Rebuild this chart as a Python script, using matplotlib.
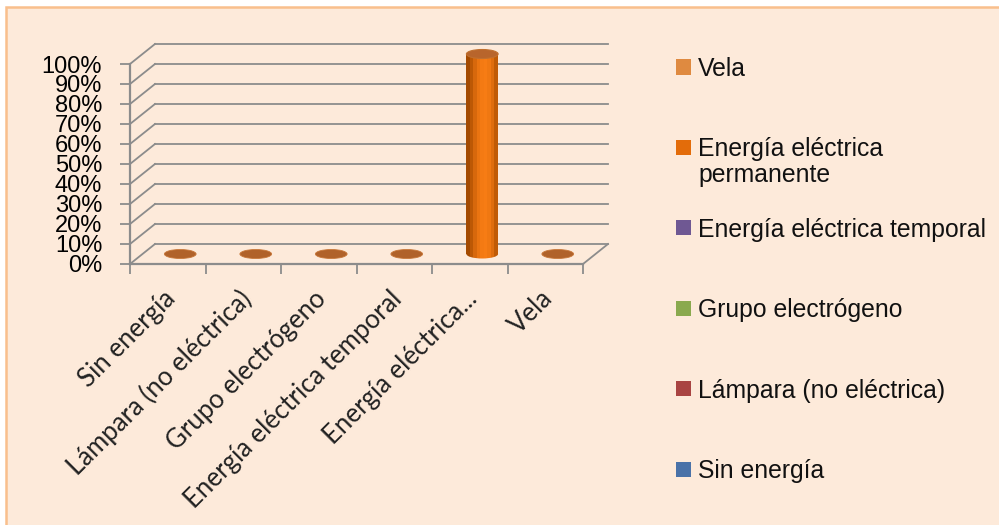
import numpy as np
import matplotlib
matplotlib.use("Agg")
import matplotlib.pyplot as plt
from matplotlib.patches import Rectangle, Ellipse

# Datos
categorias = ["Sin energía", "Lámpara (no eléctrica)", "Grupo electrógeno",
              "Energía eléctrica temporal", "Energía eléctrica...", "Vela"]
valores = [0, 0, 0, 0, 100, 0]
leyenda = ["Vela", "Energía eléctrica\npermanente", "Energía eléctrica temporal",
           "Grupo electrógeno", "Lámpara (no eléctrica)", "Sin energía"]
colores_leyenda = ["#DF8A40", "#E36C0A", "#6F5893", "#8AA94E", "#A94442", "#4A72A8"]
yticks = list(range(0, 101, 10))

fondo = "#FDEADA"
gris = "#8C8C8C"

fig = plt.figure(figsize=(9.99, 5.25), dpi=100)
fig.patch.set_facecolor("white")
# marco naranja del grafico
fig.patches.append(Rectangle((6 / 999, -0.1), 1.1, (525 - 7) / 525 + 0.1,
                             transform=fig.transFigure, facecolor=fondo,
                             edgecolor="#F9BF8C", lw=1.8, zorder=-5))

ax = fig.add_axes([130 / 999, 1 - 264 / 525, 453 / 999, 200 / 525])
ax.set_facecolor("none")
ax.set_zorder(2)
for s in ax.spines.values():
    s.set_visible(False)

# profundidad del efecto 3D en unidades de datos
dx = 25 / 75.5
dy = 10

# pared trasera, pared lateral y suelo
n = len(categorias)
for v in yticks[1:]:
    ax.plot([dx, n + dx], [v + dy, v + dy], color=gris, lw=1.3, clip_on=False, zorder=1)
for v in yticks:
    ax.plot([0, dx], [v, v + dy], color=gris, lw=1.3, clip_on=False, zorder=1)
ax.plot([dx, n + dx], [dy, dy], color=gris, lw=1.3, clip_on=False, zorder=1)
ax.plot([0, n], [0, 0], color=gris, lw=1.6, clip_on=False, zorder=1)
ax.plot([n, n + dx], [0, dy], color=gris, lw=1.3, clip_on=False, zorder=1)
ax.plot([0, 0], [0, 100], color=gris, lw=1.6, clip_on=False, zorder=1)

ax.set_yticks(yticks)
ax.set_yticklabels([f"{v}%" for v in yticks], fontsize=17, family="Liberation Sans")
ax.tick_params(axis="y", length=7, width=1.3, color=gris, pad=13)
ax.set_xticks(np.arange(n + 1))
ax.set_xticklabels([])
ax.tick_params(axis="x", length=7, width=1.3, color=gris)
for i, c in enumerate(categorias):
    ax.text(i + 0.43, -11, c, rotation=45, ha="right", va="top", fontsize=18.5,
            family="Lato", color="#222222", rotation_mode="anchor")

# cilindros
ancho = 0.42
alto_elipse = 4.5
grad = np.array([[0.0, 0.3, 0.62, 0.85, 0.97, 1.0, 0.92, 0.7, 0.35]])
cmap = matplotlib.colors.LinearSegmentedColormap.from_list("cil", ["#A44A00", "#F77C14"])
for i, v in enumerate(valores):
    cx = i + 0.5 + dx / 2
    base = dy / 2
    if v > 0:
        rect = Rectangle((cx - ancho / 2, base), ancho, v, transform=ax.transData)
        im = ax.imshow(grad, cmap=cmap, aspect="auto", zorder=3,
                       extent=(cx - ancho / 2, cx + ancho / 2, base, base + v))
        im.set_clip_path(rect)
        elb = Ellipse((cx, base), ancho, alto_elipse, transform=ax.transData)
        im2 = ax.imshow(grad, cmap=cmap, aspect="auto", zorder=3,
                        extent=(cx - ancho / 2, cx + ancho / 2, base - alto_elipse, base + alto_elipse))
        im2.set_clip_path(elb)
        ax.add_patch(Ellipse((cx, base + v), ancho, alto_elipse, facecolor="#B8652C",
                             edgecolor="#C07030", lw=0.8, zorder=4, clip_on=False))
    else:
        ax.add_patch(Ellipse((cx, base), ancho, alto_elipse, facecolor="#B0622A",
                             edgecolor="#C8783A", lw=0.6, zorder=3, clip_on=False))
ax.set_xlim(0, n)
ax.set_ylim(0, 100)

# leyenda
y0 = 67
paso = 80.4
for k, (lab, col) in enumerate(zip(leyenda, colores_leyenda)):
    yc = y0 + paso * k
    fig.patches.append(Rectangle((676 / 999, 1 - (yc + 7.5) / 525), 15 / 999, 15 / 525,
                                 transform=fig.transFigure, facecolor=col, edgecolor="none"))
    fig.text(698 / 999, 1 - (yc - 10) / 525, lab, ha="left", va="top", fontsize=17.8,
             family="Liberation Sans", color="#111111", linespacing=1.1)

plt.savefig("out.png", dpi=100, facecolor=fig.get_facecolor())
